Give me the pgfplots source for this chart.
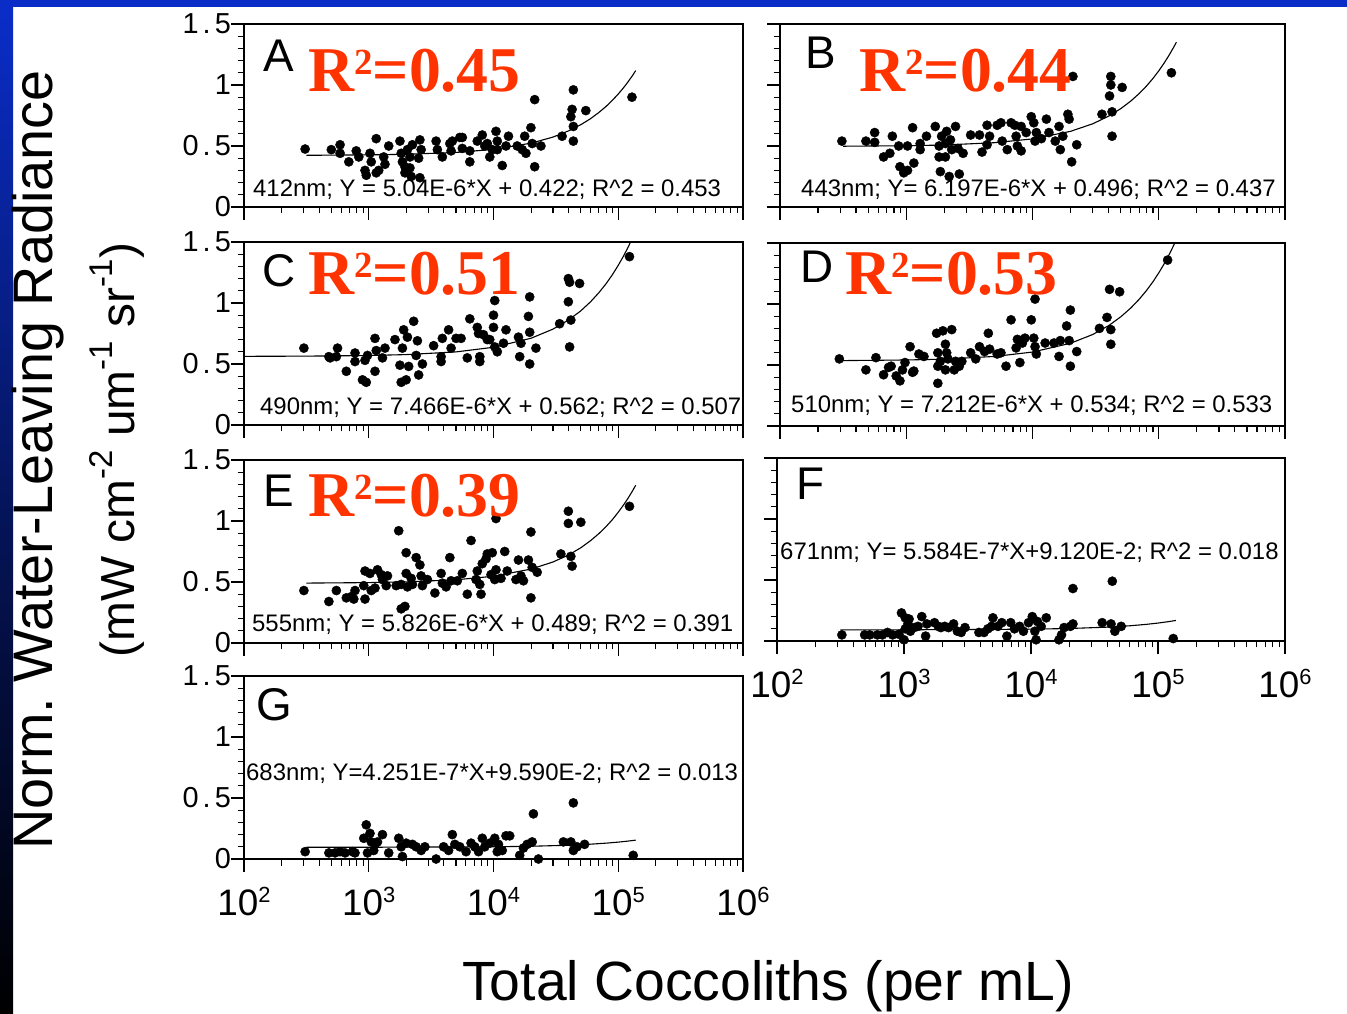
\documentclass[border=0pt]{standalone}
\usepackage{fontspec}
\setmainfont{Liberation Sans}
\newfontfamily\rsqfamily{Liberation Serif}
\newfontfamily\tickfamily[LetterSpace=14]{Liberation Sans}
\usepackage{pgfplots}
\usepackage{pgfplotstable}
\pgfplotsset{compat=1.18}

\definecolor{slideblue}{RGB}{10,45,200}
\definecolor{rsqred}{RGB}{255,51,0}

\newcommand{\tenpow}[1]{\fontsize{37}{37}\selectfont 10\raisebox{13bp}{\fontsize{22}{22}\selectfont #1}}
\newcommand{\rsq}[1]{{\color{rsqred}\rsqfamily\bfseries\fontsize{64}{64}\selectfont R\raisebox{17bp}{\fontsize{37}{37}\selectfont 2}=#1}}
\newcommand{\eqn}[1]{{\fontsize{24}{24}\selectfont #1}}
\newcommand{\plet}[1]{{\fontsize{46}{46}\selectfont #1}}
\newcommand{\sups}[1]{\raisebox{0.45em}{\fontsize{33}{33}\selectfont #1}}

% ---------------- data: total coccoliths (per mL) vs. radiance ----------------
\pgfplotstableread[row sep=\\]{
X Y\\
309 0.475\\ 501 0.47\\ 589 0.51\\ 589 0.44\\ 692 0.37\\ 794 0.46\\ 832 0.41\\ 933 0.30\\ 955 0.26\\
1023 0.44\\ 1047 0.37\\ 1148 0.56\\ 1202 0.30\\ 1148 0.28\\ 1318 0.41\\ 1349 0.35\\ 1445 0.50\\
1778 0.54\\ 1820 0.44\\ 1862 0.37\\ 1950 0.33\\ 1950 0.28\\ 2042 0.47\\ 2138 0.41\\ 2138 0.32\\
2188 0.25\\ 2239 0.51\\ 2570 0.55\\ 2630 0.47\\ 2570 0.24\\ 2512 0.40\\ 3467 0.54\\ 3548 0.47\\
3890 0.41\\ 4467 0.52\\ 4571 0.46\\ 4677 0.54\\ 5370 0.57\\ 5623 0.57\\ 5623 0.48\\ 6457 0.46\\
6457 0.37\\ 7413 0.54\\ 8128 0.59\\ 8511 0.50\\ 8913 0.52\\ 9333 0.41\\ 9772 0.47\\ 10470 0.62\\
10720 0.54\\ 10720 0.47\\ 11750 0.34\\ 12590 0.50\\ 13180 0.58\\ 15490 0.50\\ 16980 0.47\\
17780 0.58\\ 18200 0.44\\ 19950 0.65\\ 20420 0.52\\ 21380 0.88\\ 21380 0.33\\ 23990 0.50\\
35480 0.58\\ 41690 0.74\\ 42660 0.80\\ 43650 0.66\\ 43650 0.96\\ 43650 0.54\\ 54950 0.79\\
128800 0.90\\
}\dataA

\pgfplotstableread[row sep=\\]{
X Y\\
309 0.54\\ 479 0.54\\ 562 0.61\\ 562 0.53\\ 661 0.41\\ 741 0.44\\ 776 0.58\\ 871 0.50\\ 891 0.33\\
955 0.28\\ 1023 0.30\\ 1023 0.50\\ 1122 0.65\\ 1148 0.36\\ 1288 0.52\\ 1288 0.47\\ 1445 0.58\\
1698 0.66\\ 1820 0.50\\ 1820 0.41\\ 1862 0.29\\ 1905 0.58\\ 2042 0.52\\ 2042 0.41\\ 2089 0.62\\
2188 0.25\\ 2239 0.55\\ 2291 0.47\\ 2455 0.66\\ 2570 0.48\\ 2630 0.27\\ 2818 0.44\\ 3236 0.59\\
3802 0.59\\ 3981 0.45\\ 4365 0.67\\ 4365 0.51\\ 4571 0.58\\ 5248 0.67\\ 5623 0.69\\ 5754 0.54\\
6310 0.47\\ 6761 0.69\\ 7244 0.67\\ 7413 0.58\\ 7586 0.50\\ 8128 0.46\\ 8128 0.66\\ 8913 0.61\\
9772 0.74\\ 10230 0.69\\ 10470 0.54\\ 10720 0.61\\ 11750 0.56\\ 12880 0.72\\ 13490 0.61\\
15140 0.54\\ 16220 0.66\\ 16600 0.47\\ 17380 0.58\\ 19050 0.76\\ 19500 0.72\\ 20420 0.37\\
20890 1.07\\ 22390 0.51\\ 35480 0.76\\ 41690 1.07\\ 41690 1.00\\ 40740 0.91\\ 42660 0.78\\
42660 0.58\\ 51290 0.98\\ 125900 1.10\\
}\dataB

\pgfplotstableread[row sep=\\]{
X Y\\
302 0.63\\ 479 0.56\\ 490 0.55\\ 550 0.56\\ 562 0.63\\ 661 0.44\\ 776 0.59\\ 776 0.52\\ 891 0.37\\
933 0.53\\ 955 0.35\\ 977 0.57\\ 1122 0.71\\ 1122 0.44\\ 1148 0.61\\ 1288 0.55\\ 1349 0.63\\
1622 0.70\\ 1778 0.49\\ 1820 0.35\\ 1862 0.63\\ 1905 0.78\\ 1995 0.37\\ 2042 0.72\\ 2089 0.48\\
2291 0.85\\ 2399 0.57\\ 2455 0.69\\ 2512 0.41\\ 2692 0.50\\ 3311 0.65\\ 3802 0.56\\ 3802 0.52\\
3890 0.71\\ 4365 0.78\\ 4571 0.63\\ 5012 0.71\\ 5495 0.71\\ 6166 0.55\\ 6457 0.87\\ 7413 0.80\\
7586 0.75\\ 7762 0.56\\ 7762 0.52\\ 8318 0.74\\ 8913 0.70\\ 9333 0.70\\ 10000 0.90\\ 10000 0.80\\
10230 1.02\\ 10230 0.64\\ 10720 0.60\\ 12020 0.67\\ 12590 0.78\\ 15850 0.72\\ 16220 0.56\\
16600 0.67\\ 19050 0.89\\ 19500 1.05\\ 19500 0.76\\ 19500 0.50\\ 21880 0.63\\ 33880 0.83\\
39810 1.20\\ 40740 1.17\\ 39810 1.01\\ 41690 0.86\\ 40740 0.64\\ 48980 1.16\\ 123000 1.38\\
}\dataC

\pgfplotstableread[row sep=\\]{
X Y\\
295 0.55\\ 479 0.46\\ 575 0.56\\ 661 0.42\\ 724 0.48\\ 759 0.49\\ 832 0.41\\ 891 0.37\\ 933 0.46\\
977 0.52\\ 1072 0.65\\ 1122 0.44\\ 1148 0.45\\ 1259 0.59\\ 1380 0.57\\ 1738 0.76\\ 1778 0.60\\
1778 0.49\\ 1778 0.35\\ 1862 0.53\\ 1950 0.78\\ 2042 0.67\\ 2042 0.46\\ 2089 0.60\\ 2138 0.55\\
2291 0.79\\ 2399 0.46\\ 2455 0.53\\ 2630 0.49\\ 2754 0.53\\ 3236 0.60\\ 3548 0.55\\ 3802 0.65\\
4169 0.61\\ 4467 0.76\\ 4571 0.63\\ 5248 0.59\\ 5623 0.60\\ 6166 0.49\\ 6761 0.87\\ 7413 0.64\\
7586 0.71\\ 7943 0.52\\ 8318 0.68\\ 8710 0.72\\ 9772 0.87\\ 10230 0.72\\ 10470 1.04\\ 10470 0.65\\
10720 0.59\\ 12590 0.68\\ 14790 0.68\\ 16220 0.57\\ 16600 0.70\\ 18620 0.82\\ 19500 0.70\\
19950 0.49\\ 19950 0.95\\ 22390 0.61\\ 33880 0.80\\ 38900 0.89\\ 40740 1.12\\ 41690 0.79\\
41690 0.67\\ 48980 1.10\\ 117500 1.36\\
}\dataD

\pgfplotstableread[row sep=\\]{
X Y\\
302 0.43\\ 479 0.34\\ 550 0.43\\ 661 0.37\\ 724 0.38\\ 759 0.36\\ 776 0.43\\ 912 0.47\\ 933 0.36\\
933 0.59\\ 1023 0.57\\ 1047 0.43\\ 1122 0.45\\ 1175 0.60\\ 1259 0.56\\ 1288 0.52\\ 1380 0.47\\
1413 0.55\\ 1660 0.47\\ 1738 0.92\\ 1820 0.48\\ 1820 0.28\\ 1950 0.30\\ 1995 0.74\\ 1995 0.57\\
2042 0.46\\ 2188 0.53\\ 2239 0.48\\ 2399 0.70\\ 2570 0.64\\ 2630 0.55\\ 2692 0.47\\ 2951 0.52\\
3388 0.41\\ 3802 0.57\\ 3890 0.49\\ 4169 0.46\\ 4467 0.70\\ 4571 0.51\\ 5129 0.51\\ 5623 0.57\\
6166 0.40\\ 6607 0.84\\ 7244 0.52\\ 7413 0.59\\ 7762 0.48\\ 7943 0.40\\ 8128 0.65\\ 8710 0.69\\
8913 0.73\\ 9550 0.56\\ 9772 0.74\\ 10230 0.52\\ 10470 1.02\\ 10470 0.60\\ 11480 0.53\\
12300 0.75\\ 12880 0.59\\ 15140 0.52\\ 15850 0.68\\ 16600 0.55\\ 17380 0.51\\ 19050 0.68\\
19950 0.91\\ 19950 0.37\\ 20420 0.62\\ 22390 0.58\\ 34670 0.73\\ 39810 1.08\\ 39810 0.98\\
42660 0.63\\ 41690 0.71\\ 50120 0.99\\ 123000 1.12\\
}\dataE

\pgfplotstableread[row sep=\\]{
X Y\\
324 0.05\\ 490 0.05\\ 537 0.05\\ 617 0.05\\ 676 0.05\\ 741 0.07\\ 813 0.05\\ 912 0.055\\ 955 0.23\\
1000 0.01\\ 1023 0.19\\ 1023 0.10\\ 1072 0.14\\ 1096 0.18\\ 1122 0.08\\ 1202 0.11\\ 1288 0.12\\
1380 0.20\\ 1479 0.04\\ 1514 0.14\\ 1738 0.15\\ 1862 0.12\\ 1950 0.11\\ 2089 0.12\\ 2239 0.11\\
2455 0.14\\ 2630 0.08\\ 2818 0.07\\ 3020 0.11\\ 3890 0.07\\ 4266 0.07\\ 4571 0.10\\ 4898 0.12\\
5012 0.19\\ 5495 0.12\\ 5888 0.15\\ 6457 0.04\\ 6918 0.15\\ 7413 0.10\\ 8128 0.12\\ 8710 0.08\\
9550 0.15\\ 10230 0.20\\ 10720 0.08\\ 10960 0.01\\ 11220 0.16\\ 12020 0.12\\ 13180 0.19\\
16600 0.01\\ 17380 0.05\\ 18200 0.11\\ 20420 0.12\\ 21380 0.43\\ 21380 0.14\\ 36310 0.15\\
42660 0.14\\ 43650 0.49\\ 45710 0.08\\ 51290 0.12\\ 131800 0.02\\
}\dataF

\pgfplotstableread[row sep=\\]{
X Y\\
309 0.06\\ 479 0.05\\ 537 0.05\\ 589 0.06\\ 646 0.05\\ 741 0.06\\ 776 0.05\\ 955 0.28\\ 912 0.17\\
977 0.05\\ 1023 0.21\\ 1047 0.14\\ 1096 0.07\\ 1122 0.12\\ 1175 0.14\\ 1288 0.20\\ 1445 0.05\\
1738 0.17\\ 1820 0.10\\ 1862 0.02\\ 1995 0.13\\ 2239 0.12\\ 2399 0.10\\ 2630 0.07\\ 2818 0.10\\
3467 0.00\\ 3981 0.10\\ 4365 0.07\\ 4677 0.20\\ 4898 0.12\\ 5370 0.10\\ 6026 0.06\\ 6607 0.13\\
7079 0.10\\ 7586 0.06\\ 8128 0.17\\ 8511 0.10\\ 9333 0.13\\ 10230 0.17\\ 10720 0.06\\ 10960 0.12\\
11750 0.07\\ 12590 0.19\\ 13490 0.19\\ 16220 0.03\\ 17380 0.09\\ 18620 0.12\\ 20420 0.14\\
20890 0.37\\ 22910 0.00\\ 36310 0.14\\ 41690 0.14\\ 43650 0.07\\ 43650 0.46\\ 46770 0.10\\
53700 0.12\\ 131800 0.03\\
}\dataG

\pgfplotsset{
  cocpanel/.style={
    scale only axis, height=183bp,
    xmin=100, xmax=1000000, ymin=0, ymax=1.5,
    xtick={100,1000,10000,100000,1000000},
    minor xtick={200,300,400,500,600,700,800,900,2000,3000,4000,5000,6000,7000,8000,9000,
      20000,30000,40000,50000,60000,70000,80000,90000,200000,300000,400000,500000,600000,700000,800000,900000},
    ytick={0,0.5,1,1.5},
    minor ytick={0.1,0.2,0.3,0.4,0.6,0.7,0.8,0.9,1.1,1.2,1.3,1.4},
    tick pos=left, tick align=outside,
    major tick length=13bp, minor tick length=6.5bp,
    every tick/.style={black, line width=1.1bp},
    axis line style={line width=1.2bp},
    xticklabels={}, yticklabels={},
    clip mode=individual,
  },
  yleft/.style={
    yticklabels={0,0.5,1,1.5},
    yticklabel style={font=\tickfamily\fontsize{29}{29}\selectfont, anchor=east, inner sep=0pt},
  },
  xbottom/.style={
    xticklabels={\tenpow{2},\tenpow{3},\tenpow{4},\tenpow{5},\tenpow{6}},
    xticklabel style={anchor=base, inner sep=0pt, yshift=-43bp},
  },
  dots/.style={only marks, mark=*, mark size=4.6bp, mark options={draw=black, fill=black}},
  fitline/.style={black, line width=1.1bp, no marks},
}

\begin{document}
\begin{tikzpicture}
% slide background
\begin{scope}[x=1bp,y=1bp]
  \fill[white] (0,0) rectangle (1347,1013);
  \fill[slideblue] (0,1006) rectangle (1347,1013);
  \shade[top color=slideblue, bottom color=black, middle color=slideblue!45!black] (0,0) rectangle (13,1006);
\end{scope}

% A: 412 nm
\begin{semilogxaxis}[cocpanel, yleft, width=499bp, at={(244bp,806bp)}, anchor=south west]
  \addplot[dots] table[x=X, y=Y] {\dataA};
  \addplot[fitline] coordinates {(316,0.4236) (1000,0.427) (2000,0.432) (5000,0.447) (10000,0.472)
    (20000,0.523) (30000,0.573) (40000,0.624) (50000,0.674) (60000,0.724) (70000,0.775) (80000,0.825)
    (90000,0.876) (100000,0.926) (110000,0.976) (120000,1.027) (130000,1.077) (138000,1.118)};
\end{semilogxaxis}

% B: 443 nm
\begin{semilogxaxis}[cocpanel, width=505bp, at={(780bp,806bp)}, anchor=south west]
  \addplot[dots] table[x=X, y=Y] {\dataB};
  \addplot[fitline] coordinates {(316,0.498) (1000,0.502) (2000,0.508) (5000,0.527) (10000,0.558)
    (20000,0.620) (30000,0.682) (40000,0.744) (50000,0.806) (60000,0.868) (70000,0.930) (80000,0.992)
    (90000,1.054) (100000,1.116) (110000,1.178) (120000,1.240) (130000,1.302) (138000,1.351)};
\end{semilogxaxis}

% C: 490 nm
\begin{semilogxaxis}[cocpanel, yleft, width=499bp, at={(244bp,588bp)}, anchor=south west]
  \addplot[dots] table[x=X, y=Y] {\dataC};
  \addplot[fitline] coordinates {(100,0.5627) (316,0.5644) (1000,0.5695) (2000,0.577) (5000,0.599)
    (10000,0.637) (20000,0.711) (30000,0.786) (40000,0.861) (50000,0.935) (60000,1.010) (70000,1.085)
    (80000,1.159) (90000,1.234) (100000,1.309) (110000,1.383) (120000,1.458) (130000,1.533) (138000,1.592)};
\end{semilogxaxis}

% D: 510 nm
\begin{semilogxaxis}[cocpanel, width=505bp, at={(780bp,587bp)}, anchor=south west]
  \addplot[dots] table[x=X, y=Y] {\dataD};
  \addplot[fitline] coordinates {(316,0.536) (1000,0.541) (2000,0.548) (5000,0.570) (10000,0.606)
    (20000,0.678) (30000,0.750) (40000,0.822) (50000,0.895) (60000,0.967) (70000,1.039) (80000,1.111)
    (90000,1.183) (100000,1.255) (110000,1.327) (120000,1.399) (130000,1.472) (138000,1.529)};
\end{semilogxaxis}

% E: 555 nm
\begin{semilogxaxis}[cocpanel, yleft, width=499bp, at={(244bp,370bp)}, anchor=south west]
  \addplot[dots] table[x=X, y=Y] {\dataE};
  \addplot[fitline] coordinates {(316,0.491) (1000,0.495) (2000,0.501) (5000,0.518) (10000,0.547)
    (20000,0.606) (30000,0.664) (40000,0.722) (50000,0.780) (60000,0.839) (70000,0.897) (80000,0.955)
    (90000,1.013) (100000,1.072) (110000,1.130) (120000,1.188) (130000,1.246) (138000,1.293)};
\end{semilogxaxis}

% F: 671 nm
\begin{semilogxaxis}[cocpanel, xbottom, width=508bp, at={(777bp,372bp)}, anchor=south west]
  \addplot[dots] table[x=X, y=Y] {\dataF};
  \addplot[fitline] coordinates {(316,0.0914) (1000,0.0918) (10000,0.0968) (20000,0.1024) (40000,0.1135)
    (60000,0.1247) (80000,0.1359) (100000,0.1470) (120000,0.1582) (138000,0.1683)};
\end{semilogxaxis}

% G: 683 nm
\begin{semilogxaxis}[cocpanel, yleft, xbottom, width=499bp, at={(244bp,154bp)}, anchor=south west]
  \addplot[dots] table[x=X, y=Y] {\dataG};
  \addplot[fitline] coordinates {(316,0.0960) (1000,0.0963) (10000,0.1002) (20000,0.1044) (40000,0.1129)
    (60000,0.1214) (80000,0.1299) (100000,0.1384) (120000,0.1469) (138000,0.1546)};
\end{semilogxaxis}

% panel letters, coefficients of determination and fit equations
\begin{scope}[x=1bp,y=1bp, every node/.style={inner sep=0pt}]
  \node[anchor=base west] at (263,941) {\plet{A}};
  \node[anchor=base west] at (805,944) {\plet{B}};
  \node[anchor=base west] at (262,726) {\plet{C}};
  \node[anchor=base west] at (800,730) {\plet{D}};
  \node[anchor=base west] at (263,506) {\plet{E}};
  \node[anchor=base west] at (796,513) {\plet{F}};
  \node[anchor=base west] at (256,293) {\plet{G}};

  \node[anchor=base west] at (308,921) {\rsq{0.45}};
  \node[anchor=base west] at (859,921) {\rsq{0.44}};
  \node[anchor=base west] at (308,718) {\rsq{0.51}};
  \node[anchor=base west] at (845,718) {\rsq{0.53}};
  \node[anchor=base west] at (308,496) {\rsq{0.39}};

  \node[anchor=base west] at (253,816) {\eqn{412nm; Y = 5.04E-6*X + 0.422; R\^{}2 = 0.453}};
  \node[anchor=base west] at (801,816) {\eqn{443nm; Y= 6.197E-6*X + 0.496; R\^{}2 = 0.437}};
  \node[anchor=base west] at (260,598) {\eqn{490nm; Y = 7.466E-6*X + 0.562; R\^{}2 = 0.507}};
  \node[anchor=base west] at (791,600) {\eqn{510nm; Y = 7.212E-6*X + 0.534; R\^{}2 = 0.533}};
  \node[anchor=base west] at (252,381) {\eqn{555nm; Y = 5.826E-6*X + 0.489; R\^{}2 = 0.391}};
  \node[anchor=base west] at (780,453) {\eqn{671nm; Y= 5.584E-7*X+9.120E-2; R\^{}2 = 0.018}};
  \node[anchor=base west] at (246,233) {\eqn{683nm; Y=4.251E-7*X+9.590E-2; R\^{}2 = 0.013}};

  % shared axis titles
  \node[anchor=base] at (768,13) {\fontsize{55.5}{55.5}\selectfont Total Coccoliths (per mL)};
  \node[rotate=90, anchor=center] at (38,553) {\fontsize{56}{56}\selectfont Norm.\ Water-Leaving Radiance};
  \node[rotate=90, anchor=center] at (117,563) {\fontsize{48}{48}\selectfont (mW cm\sups{-2} um\sups{-1} sr\sups{-1})};
\end{scope}
\end{tikzpicture}
\end{document}
